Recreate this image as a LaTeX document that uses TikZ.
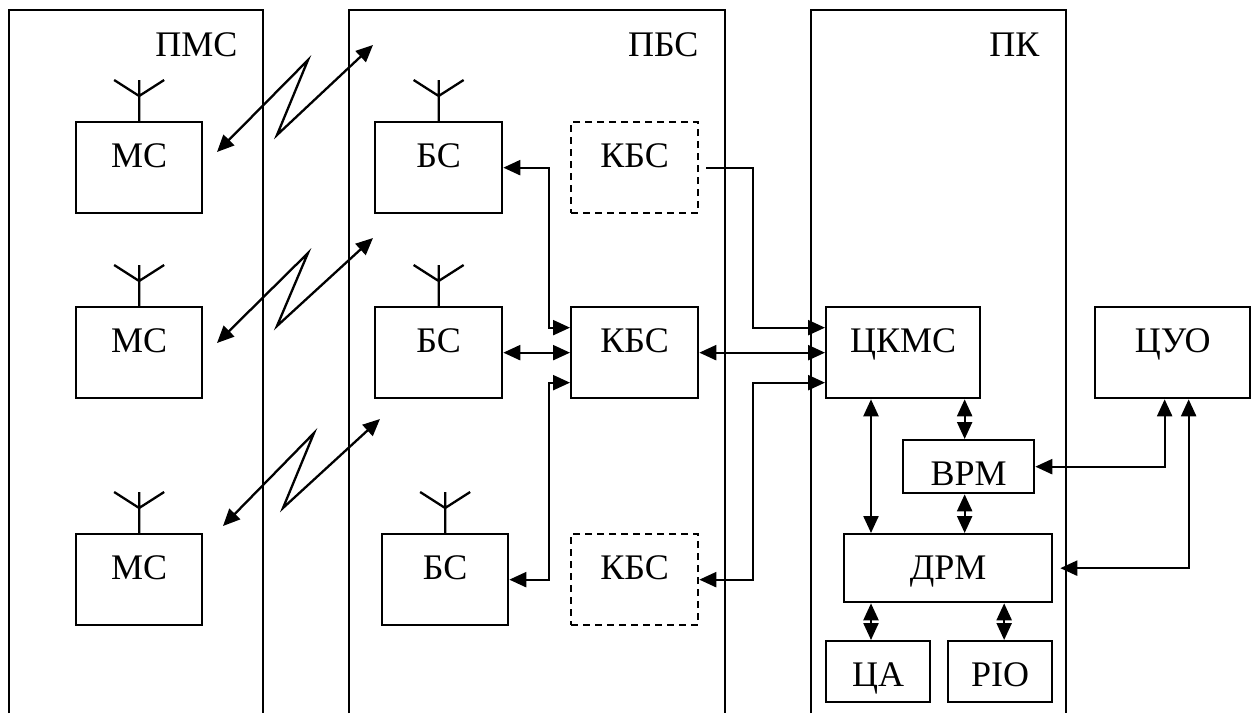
\documentclass[tikz,border=0pt]{standalone}
\usepackage{fontspec}
\setmainfont{Liberation Serif}
\usetikzlibrary{arrows.meta}

\begin{document}
\begin{tikzpicture}[
        x=1pt, y=-1pt,
        >={Triangle[length=17pt, width=15pt]},
        every node/.style={font=\fontsize{36}{40}\selectfont},
        block/.style={draw, line width=2.3pt, anchor=north west, inner sep=0pt, text height=45pt, text depth=46pt},
        spare/.style={block, dash pattern=on 7pt off 5pt},
        panel/.style={line width=2.3pt},
        ant/.style={line width=2.3pt},
        conn/.style={line width=2.3pt, <->},
        feed/.style={line width=2.3pt, ->}
    ]
        \useasboundingbox (0,0) rectangle (1254,713);

        % Panels
        \draw[panel] (9,713) |- (263,10) -- (263,713);
        \draw[panel] (349,713) |- (725,10) -- (725,713);
        \draw[panel] (811,713) |- (1066,10) -- (1066,713);
        \node[anchor=base east] (pms) at (241,56) {ПМС};
        \node[anchor=base east] (pbs) at (702,56) {ПБС};
        \node[anchor=base east] (pk) at (1043,56) {ПК};

        % Mobile stations
        \node[block, minimum width=126pt] (ms1) at (75,121) {МС};
        \node[block, minimum width=126pt] (ms2) at (75,306) {МС};
        \node[block, minimum width=126pt] (ms3) at (75,533) {МС};

        % Base stations and controllers
        \node[block, minimum width=127pt] (bs1) at (374,121) {БС};
        \node[block, minimum width=127pt] (bs2) at (374,306) {БС};
        \node[block, minimum width=126pt] (bs3) at (381,533) {БС};
        \node[spare, minimum width=127pt] (kbs1) at (570,121) {КБС};
        \node[block, minimum width=127pt] (kbs2) at (570,306) {КБС};
        \node[spare, minimum width=127pt] (kbs3) at (570,533) {КБС};

        % Switching centre
        \node[block, minimum width=154pt] (ckms) at (825,306) {ЦКМС};
        \node[block, minimum width=155pt] (cuo) at (1094,306) {ЦУО};
        \node[block, minimum width=131pt, text depth=8pt] (vrm) at (902,439) {ВРМ};
        \node[block, minimum width=208pt, text depth=23pt] (drm) at (843,533) {ДРМ};
        \node[block, minimum width=104pt, text depth=16pt] (ca) at (825,640) {ЦА};
        \node[block, minimum width=104pt, text depth=16pt] (pio) at (947,640) {PIO};

        % Antennas
        \foreach \b in {ms1,ms2,ms3,bs1,bs2,bs3}
            \draw[ant] (\b.north) -- ++(0,-41) (\b.north) ++(-25,-41) -- ++(25,16) -- ++(25,-16);

        % Radio links
        \coordinate (m1) at (217,152);
        \coordinate (b1) at (373,45);
        \coordinate (m2) at (217,343);
        \coordinate (b2) at (373,238);
        \coordinate (m3) at (223,526);
        \coordinate (b3) at (380,419);
        \draw[conn] (m1) -- (308,60) -- (277,135) -- (b1);
        \draw[conn] (m2) -- (308,253) -- (277,326) -- (b2);
        \draw[conn] (m3) -- (314,433) -- (283,508) -- (b3);

        % BS -- KBS links
        \draw[conn] (bs1.east) -- ++(46,0) |- ([yshift=25pt]kbs2.west);
        \draw[conn] (bs2.east) -- (kbs2.west);
        \draw[conn] (bs3.east) -- ++(40,0) |- ([yshift=-30pt]kbs2.west);

        % KBS -- CKMS links
        \draw[feed] ([xshift=7pt]kbs1.east) -- ++(47,0) |- ([yshift=25pt]ckms.west);
        \draw[conn] (kbs2.east) -- (ckms.west);
        \draw[conn] (kbs3.east) -- ++(54,0) |- ([yshift=-30pt]ckms.west);

        % Inside the centre
        \coordinate (c1) at ([xshift=46pt]ckms.south west);
        \coordinate (c2) at ([xshift=-4pt]vrm.north);
        \coordinate (c3) at ([xshift=4pt]pio.north);
        \draw[conn] (c1) -- (c1 |- drm.north);
        \draw[conn] (c1 |- drm.south) -- (c1 |- ca.north);
        \draw[conn] (c2) -- (c2 |- ckms.south);
        \draw[conn] (c2 |- vrm.south) -- (c2 |- drm.north);
        \draw[conn] (c3) -- (c3 |- drm.south);

        % CUO links
        \draw[conn] (vrm.east) -| ([xshift=-8pt]cuo.south);
        \draw[conn] ([xshift=7pt]drm.east) -| ([xshift=16pt]cuo.south);
    \end{tikzpicture}
\end{document}
